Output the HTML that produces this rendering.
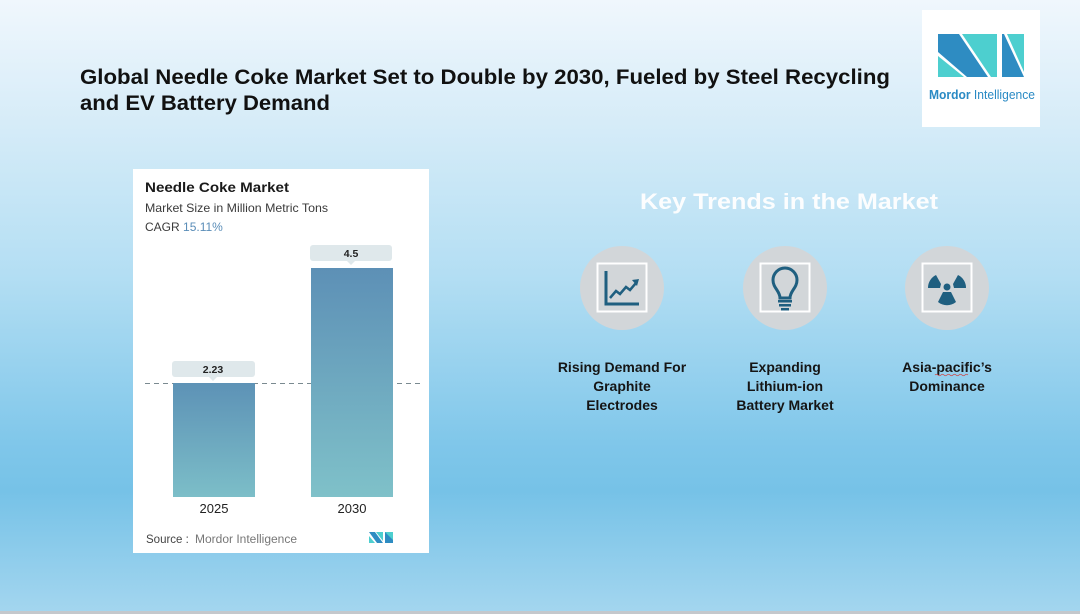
<!DOCTYPE html>
<html><head><meta charset="utf-8"><style>
html,body{margin:0;padding:0;}
body{width:1080px;height:614px;overflow:hidden;font-family:"Liberation Sans",sans-serif;}
svg{display:block;}
</style></head><body>
<svg width="1080" height="614" viewBox="0 0 1080 614" xmlns="http://www.w3.org/2000/svg" font-family="Liberation Sans, sans-serif">
<defs>
<linearGradient id="bg" x1="0" y1="0" x2="0" y2="1">
<stop offset="0" stop-color="#f0f7fd"/>
<stop offset="0.2" stop-color="#d6ecf8"/>
<stop offset="0.45" stop-color="#b3def3"/>
<stop offset="0.72" stop-color="#80c7ea"/>
<stop offset="0.8" stop-color="#76c2e7"/>
<stop offset="1" stop-color="#a4d6ef"/>
</linearGradient>
<linearGradient id="bar" x1="0" y1="0" x2="0" y2="1">
<stop offset="0" stop-color="#5d90b6"/>
<stop offset="1" stop-color="#7fc1c9"/>
</linearGradient>
<linearGradient id="bar1" x1="0" y1="0" x2="0" y2="1">
<stop offset="0" stop-color="#5d92b6"/>
<stop offset="1" stop-color="#7cbec8"/>
</linearGradient>
</defs>
<rect width="1080" height="614" fill="url(#bg)"/>
<rect x="0" y="611" width="1080" height="3" fill="#c4c8cc"/>

<!-- Title -->
<text x="80" y="84" font-size="21" font-weight="bold" fill="#111" textLength="810" lengthAdjust="spacingAndGlyphs">Global Needle Coke Market Set to Double by 2030, Fueled by Steel Recycling</text>
<text x="80" y="110" font-size="21" font-weight="bold" fill="#111" textLength="250" lengthAdjust="spacingAndGlyphs">and EV Battery Demand</text>

<!-- Logo box -->
<rect x="922" y="10" width="118" height="117" fill="#ffffff"/>
<polygon points="938,34 959,34 988,77 967,77 938,52" fill="#2e8cc2"/>
<polygon points="938,56 938,77 964,77" fill="#4dcfcf"/>
<polygon points="962,34 997,34 997,77 991,77" fill="#4dcfcf"/>
<polygon points="1002,34 1004,34 1024,77 1002,77" fill="#2e8cc2"/>
<polygon points="1007,34 1024,34 1024,72" fill="#4dcfcf"/>
<text x="929" y="99" font-size="12.5" fill="#2a8ac4" textLength="106" lengthAdjust="spacingAndGlyphs"><tspan font-weight="bold">Mordor</tspan> Intelligence</text>

<!-- Chart card -->
<rect x="133" y="169" width="296" height="384" fill="#ffffff"/>
<text x="145" y="192" font-size="14" font-weight="bold" fill="#1a1a1a" textLength="144" lengthAdjust="spacingAndGlyphs">Needle Coke Market</text>
<text x="145" y="212" font-size="12" fill="#3a3a3a" textLength="183" lengthAdjust="spacingAndGlyphs">Market Size in Million Metric Tons</text>
<text x="145" y="231" font-size="12" fill="#3a3a3a">CAGR <tspan fill="#5a8db8">15.11%</tspan></text>

<line x1="145" y1="383.5" x2="424" y2="383.5" stroke="#7a8a90" stroke-width="1" stroke-dasharray="5,4"/>
<rect x="173" y="383" width="82" height="114" fill="url(#bar1)"/>
<rect x="311" y="268" width="82" height="229" fill="url(#bar)"/>

<rect x="172" y="361" width="83" height="16" rx="3" fill="#dfe8eb"/>
<polygon points="209,377 217,377 213,381" fill="#dfe8eb"/>
<text x="213" y="373" font-size="10.5" font-weight="bold" fill="#222" text-anchor="middle">2.23</text>
<rect x="310" y="245" width="82" height="16" rx="3" fill="#dfe8eb"/>
<polygon points="347,261 355,261 351,265" fill="#dfe8eb"/>
<text x="351" y="257" font-size="10.5" font-weight="bold" fill="#222" text-anchor="middle">4.5</text>

<text x="214" y="513" font-size="13" fill="#222" text-anchor="middle">2025</text>
<text x="352" y="513" font-size="13" fill="#222" text-anchor="middle">2030</text>

<text x="146" y="543" font-size="11.5" fill="#444">Source :</text>
<text x="195" y="543" font-size="11.5" fill="#777" textLength="102" lengthAdjust="spacingAndGlyphs">Mordor Intelligence</text>
<polygon points="369,532 375,532 383,543 377,543" fill="#2e8cc2"/>
<polygon points="369,536 369,543 375,543" fill="#4dcfcf"/>
<polygon points="376,532 383,532 383,541" fill="#4dcfcf"/>
<rect x="385" y="532" width="8" height="11" fill="#2e8cc2"/>
<polygon points="385,532 393,532 393,540" fill="#4dcfcf"/>

<!-- Key trends -->
<text x="789" y="209" font-size="22" font-weight="bold" fill="#ffffff" text-anchor="middle" textLength="298" lengthAdjust="spacingAndGlyphs" opacity="0.95">Key Trends in the Market</text>

<g>
<circle cx="622" cy="288" r="42" fill="#d2d6d9"/>
<rect x="597.5" y="263.5" width="49" height="48" fill="none" stroke="#ffffff" stroke-width="2"/>
<path d="M606 271 V304 H639" fill="none" stroke="#1f5f80" stroke-width="3"/>
<polyline points="610,298 616,291 620,294 626,287 630,290 636,283" fill="none" stroke="#1f5f80" stroke-width="2.5"/>
<polygon points="632,280 639,279 637,286" fill="#1f5f80"/>
</g>
<g>
<circle cx="785" cy="288" r="42" fill="#d2d6d9"/>
<rect x="760.5" y="263.5" width="49" height="48" fill="none" stroke="#ffffff" stroke-width="2"/>
<path d="M780 298 C780 291 773 288 773 280 A12 12 0 0 1 797 280 C797 288 790 291 790 298 Z" fill="none" stroke="#1f5f80" stroke-width="3"/>
<rect x="778" y="300" width="14" height="2.5" fill="#1f5f80"/>
<rect x="779" y="304" width="12" height="2.5" fill="#1f5f80"/>
<rect x="781" y="308" width="8" height="2.5" fill="#1f5f80"/>
</g>
<g>
<circle cx="947" cy="288" r="42" fill="#d2d6d9"/>
<rect x="922.5" y="263.5" width="49" height="48" fill="none" stroke="#ffffff" stroke-width="2"/>
<g fill="#1f5f80" transform="translate(947,287)">
<circle r="3.5"/>
<path d="M-6 -3 L-11 -12 A14 14 0 0 0 -19 1 L-7 1 Z"/>
<path d="M6 -3 L11 -12 A14 14 0 0 1 19 1 L7 1 Z"/>
<path d="M-4 5 L4 5 L9 15 A14 14 0 0 1 -9 15 Z"/>
</g>
</g>

<g font-size="14" font-weight="bold" fill="#151515" text-anchor="middle">
<text x="622" y="372">Rising Demand For</text>
<text x="622" y="391">Graphite</text>
<text x="622" y="410">Electrodes</text>
<text x="785" y="372">Expanding</text>
<text x="785" y="391">Lithium-ion</text>
<text x="785" y="410">Battery Market</text>
<text x="947" y="372">Asia-pacific’s</text>
<text x="947" y="391">Dominance</text>
</g>
<path d="M935 375 q1.5 -1.5 3 0 t3 0 t3 0 t3 0 t3 0 t3 0 t3 0 t3 0 t3 0 t3 0 t3 0" fill="none" stroke="#d04040" stroke-width="0.8"/>
</svg>
</body></html>
